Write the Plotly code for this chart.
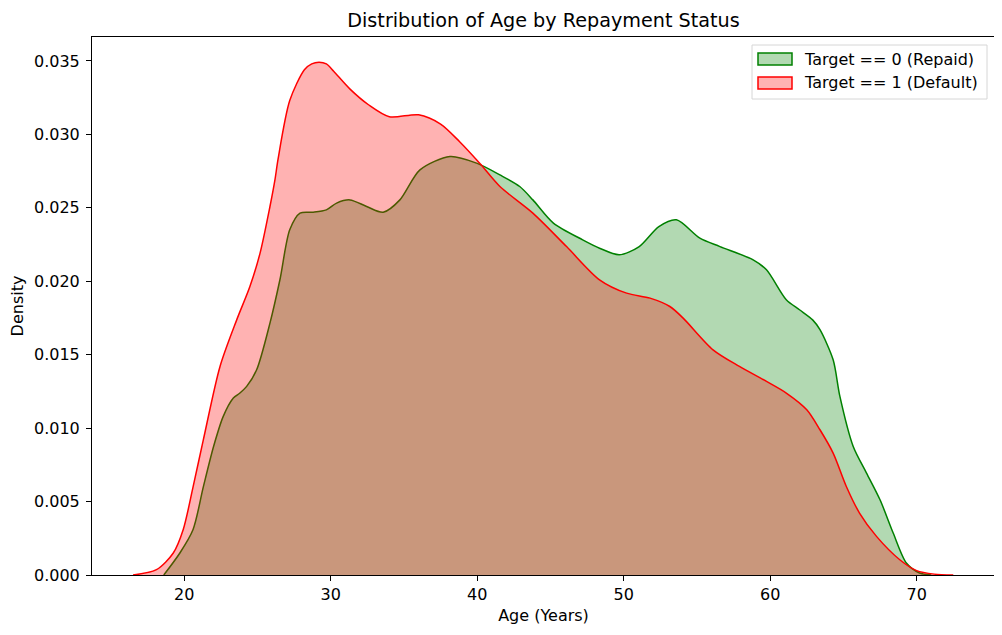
import plotly.graph_objects as go

# Target == 0 (Repaid) - KDE
age_repaid = [18.6, 19.7, 20.6, 21.3, 22.0, 22.66, 23.35, 23.8, 24.26, 24.94,
              25.85, 26.53, 27.2, 27.9, 28.8, 29.7, 30.4, 31.31, 32.45, 33.58, 34.72,
              36.09, 38.14, 39.96, 41.55, 42.9, 43.8, 45.2, 47.2, 48.35, 49.7, 51.06,
              52.4, 53.6, 55.2, 56.57, 58.84, 59.75, 61.1, 62.0, 62.9, 63.4, 64.3,
              64.76, 65.67, 66.58, 67.5, 68.4, 69.3, 70.2, 71.0]
dens_repaid = [0.0, 0.0015, 0.0031, 0.006, 0.00875, 0.0108, 0.01205, 0.01239, 0.01284,
               0.01397, 0.01715, 0.0201, 0.0235, 0.02464, 0.0247, 0.02486,
               0.02532, 0.02554, 0.02509, 0.0247, 0.02554, 0.02758, 0.02849, 0.02804,
               0.02724, 0.02645, 0.02554, 0.02396, 0.02282, 0.02225, 0.0218, 0.02236,
               0.02372, 0.02418, 0.02293, 0.02236, 0.02146, 0.02078, 0.01874, 0.01806,
               0.01737, 0.0167, 0.01465, 0.01216, 0.00875, 0.00694, 0.00512, 0.00286,
               0.00082, 0.00014, 0.0]

# Target == 1 (Default)
age_default = [16.5, 18.1, 19.25, 19.93, 20.6, 21.3, 22.44, 23.58, 24.48, 25.17, 25.85,
               26.19, 26.4, 27.2, 28.2, 28.7, 29.2, 29.7, 30.2, 31.3, 32.6, 34.0, 36.0,
               37.5, 38.8, 40.2, 41.55, 43.8, 46.1, 48.35, 50.2, 51.8, 53.15, 54.06, 56.1,
               57.9, 59.75, 61.1, 62.5, 63.4, 64.3, 65.2, 66.1, 67.26, 68.85, 70.0, 71.2,
               72.5]
dens_default = [0.0, 0.00036, 0.0015, 0.0031, 0.006, 0.0092, 0.0142, 0.01737, 0.01964,
                0.0219, 0.02509, 0.0269, 0.0283, 0.0323, 0.0344, 0.0348, 0.03491,
                0.0348, 0.0343, 0.0331, 0.0320, 0.0312, 0.03133, 0.0307, 0.0295, 0.0280,
                0.02645, 0.02464, 0.02236, 0.0201, 0.01919, 0.01885, 0.01828, 0.01749,
                0.01533, 0.0142, 0.01318, 0.01239, 0.01125, 0.00989, 0.0083, 0.00603,
                0.00422, 0.00263, 0.00104, 0.0003, 0.00006, 0.0]

series_names = ["Target == 0 (Repaid)", "Target == 1 (Default)"]
x_ticks = [20, 30, 40, 50, 60, 70]
y_ticks = [0.0, 0.005, 0.010, 0.015, 0.020, 0.025, 0.030, 0.035]

fnt = "DejaVu Sans, Liberation Sans, sans-serif"
line_cols = ["green", "red"]
fill_cols = ["rgba(0,128,0,0.3)", "rgba(255,0,0,0.3)"]

# plot area in page pixels (page has an 8px body offset)
PL, PT, PW, PH = 92, 37, 903, 538
OFF = 8


def xp(px):
    return (px - PL) / PW


def yp(py):
    return 1 - (py - PT) / PH


fig = go.Figure()
fig.add_trace(go.Scatter(x=age_repaid, y=dens_repaid, mode="lines", fill="tozeroy",
                         line=dict(color=line_cols[0], width=1.5, shape="spline", smoothing=0.8),
                         fillcolor=fill_cols[0], name=series_names[0], showlegend=False))
fig.add_trace(go.Scatter(x=age_default, y=dens_default, mode="lines", fill="tozeroy",
                         line=dict(color=line_cols[1], width=1.5, shape="spline", smoothing=0.8),
                         fillcolor=fill_cols[1], name=series_names[1], showlegend=False))

# legend drawn by hand, matplotlib style (patch boxes)
shapes = [dict(type="rect", xref="paper", yref="paper", x0=xp(752), x1=xp(987),
               y0=yp(99), y1=yp(45), fillcolor="rgba(255,255,255,0.8)",
               line=dict(color="#d6d6d6", width=1))]
annos = []
for i, nm in enumerate(series_names):
    cy = 59 + 24 * i
    shapes.append(dict(type="rect", xref="paper", yref="paper", x0=xp(758), x1=xp(792),
                       y0=yp(cy + 6), y1=yp(cy - 6), fillcolor=fill_cols[i],
                       line=dict(color=line_cols[i], width=1.5)))
    annos.append(dict(text=nm, xref="paper", yref="paper", x=xp(802), y=yp(cy),
                      xanchor="left", yanchor="middle", showarrow=False,
                      font=dict(size=16)))

fig.update_layout(
    width=1002, height=635,
    margin=dict(l=PL - OFF, r=1002 - (PL - OFF) - PW, t=PT - OFF, b=635 - (PT - OFF) - PH),
    paper_bgcolor="white", plot_bgcolor="white",
    font=dict(family=fnt, size=16, color="black"),
    title=dict(text="Distribution of Age by Repayment Status", x=0.5, xref="paper",
               y=1 - (20 - OFF) / 635, yref="container", yanchor="middle",
               font=dict(size=19.2)),
    shapes=shapes, annotations=annos,
    showlegend=False,
)
fig.update_xaxes(range=[13.7, 75.35], tickvals=x_ticks, ticks="outside", ticklen=5,
                 tickcolor="black", showline=True, linecolor="black", linewidth=1,
                 mirror=True, showgrid=False, zeroline=False, automargin=False,
                 title=dict(text="Age (Years)", standoff=6, font=dict(size=16)))
fig.update_yaxes(range=[0, 0.03663], tickvals=y_ticks, tickformat=".3f", ticks="outside",
                 ticklen=5, tickcolor="black", showline=True, linecolor="black",
                 linewidth=1, mirror=True, showgrid=False, zeroline=False, automargin=False,
                 ticklabelstandoff=3,
                 title=dict(text="Density", standoff=6, font=dict(size=16)))

fig.write_html("out.html")
